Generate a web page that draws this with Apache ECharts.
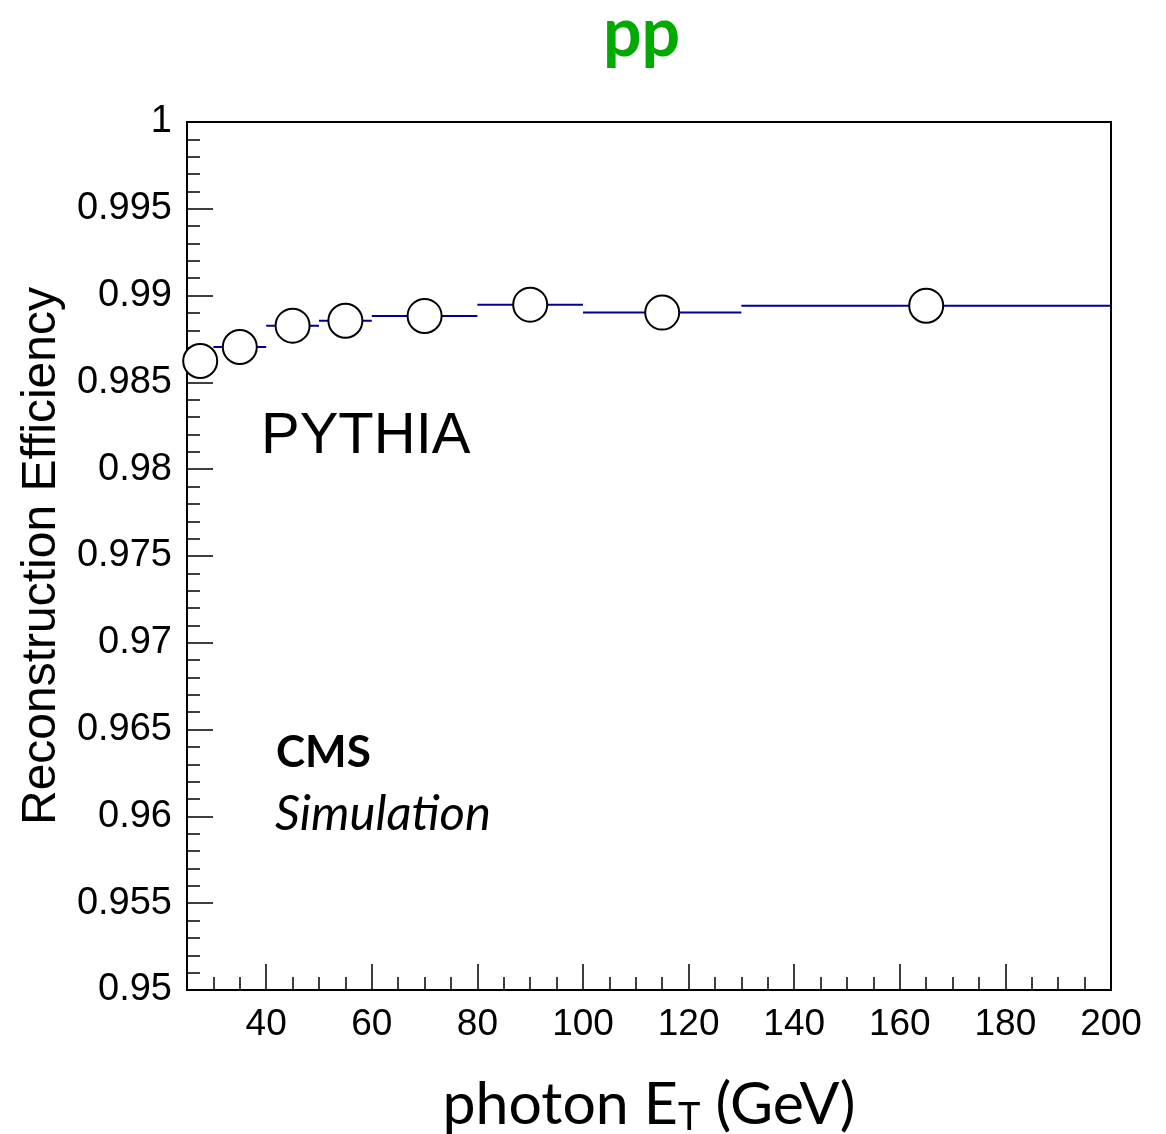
<!DOCTYPE html>
<html style="height: 100%">
<head>
<meta charset="utf-8">
<title>pp reconstruction efficiency</title>
<script src="https://cdn.jsdelivr.net/npm/echarts@6.0.0/dist/echarts.min.js"></script>
</head>
<body style="height: 100%; margin: 0; background: #fff">
<div id="container" style="width: 1166px; height: 1134px"></div>
<script type="text/javascript">
// bins in photon ET (GeV) and efficiency per bin
var binLo = [25, 30, 40, 50, 60, 80, 100, 130];
var binHi = [30, 40, 50, 60, 80, 100, 130, 200];
var ptX = [27.5, 35, 45, 55, 70, 90, 115, 165];
var eff = [0.98623, 0.98704, 0.98827, 0.98855, 0.98883, 0.98948, 0.98902, 0.98942];
var xMajor = [40, 60, 80, 100, 120, 140, 160, 180, 200];

var dom = document.getElementById('container');
var myChart = echarts.init(dom);

var binData = [];
var ptData = [];
for (var i = 0; i < eff.length; i++) {
    binData.push([binLo[i], binHi[i], eff[i]]);
    ptData.push([ptX[i], eff[i]]);
}

var sans = '"Liberation Sans", Arial, sans-serif';
var soft = 'Lato, "Open Sans", sans-serif';

var option = {
    animation: false,
    backgroundColor: '#fff',
    grid: {
        left: 187, right: 55, top: 122, bottom: 144,
        outerBoundsMode: 'none',
        containLabel: false,
        show: true, borderColor: '#000', borderWidth: 2
    },
    xAxis: [{
        type: 'value', min: 25, max: 200, interval: 5,
        position: 'bottom',
        axisLine: { lineStyle: { color: '#000', width: 2 } },
        axisTick: { inside: true, length: 13, lineStyle: { color: '#000', width: 1.5 } },
        splitLine: { show: false },
        axisLabel: {
            margin: 16, color: '#000', fontFamily: sans, fontSize: 37,
            showMinLabel: false,
            formatter: function (v) { return v % 20 === 0 ? String(v) : ''; }
        },
        name: '{a|photon E}{s|T}{a| (GeV)}',
        nameLocation: 'middle', nameGap: 83,
        nameTextStyle: {
            rich: {
                a: { fontFamily: soft, fontSize: 59, color: '#000' },
                s: { fontFamily: soft, fontSize: 38, color: '#000', verticalAlign: 'bottom', padding: [26, 0, 0, 0] }
            }
        }
    }, {
        type: 'value', min: 25, max: 200,
        position: 'bottom',
        axisLine: { show: false },
        axisTick: { inside: true, length: 26, customValues: xMajor, lineStyle: { color: '#000', width: 1.5 } },
        axisLabel: { show: false },
        splitLine: { show: false }
    }],
    yAxis: {
        type: 'value', min: 0.95, max: 1, interval: 0.005,
        axisLine: { show: true, lineStyle: { color: '#000', width: 2 } },
        axisTick: { show: true, inside: true, length: 26, lineStyle: { color: '#000', width: 1.5 } },
        minorTick: { show: true, splitNumber: 5, length: 13, lineStyle: { color: '#000', width: 1.5 } },
        splitLine: { show: false },
        axisLabel: { margin: 15, color: '#000', fontFamily: sans, fontSize: 38 },
        name: 'Reconstruction Efficiency',
        nameLocation: 'middle', nameGap: 120,
        nameTextStyle: { fontFamily: sans, fontSize: 48, color: '#000' }
    },
    graphic: [
        { type: 'text', left: 603, top: 0, style: { text: 'pp', font: 'bold 68px ' + soft, fill: '#00aa00' } },
        { type: 'text', left: 261, top: 408, style: { text: 'PYTHIA', font: '58px ' + sans, fill: '#000' } },
        { type: 'text', left: 276, top: 731, style: { text: 'CMS', font: 'bold 44px ' + soft, fill: '#000' } },
        { type: 'text', left: 275, top: 790, style: { text: 'Simulation', font: 'italic 49px ' + soft, fill: '#000' } }
    ],
    series: [{
        type: 'custom',
        data: binData,
        z: 2,
        renderItem: function (params, api) {
            var a = api.coord([api.value(0), api.value(2)]);
            var b = api.coord([api.value(1), api.value(2)]);
            return {
                type: 'line',
                shape: { x1: a[0], y1: a[1], x2: b[0], y2: b[1] },
                style: { stroke: '#000099', lineWidth: 2 }
            };
        }
    }, {
        type: 'scatter',
        data: ptData,
        z: 3,
        symbol: 'circle',
        symbolSize: 34,
        itemStyle: { color: '#fff', borderColor: '#000', borderWidth: 2, opacity: 1 }
    }]
};

myChart.setOption(option);
</script>
</body>
</html>
